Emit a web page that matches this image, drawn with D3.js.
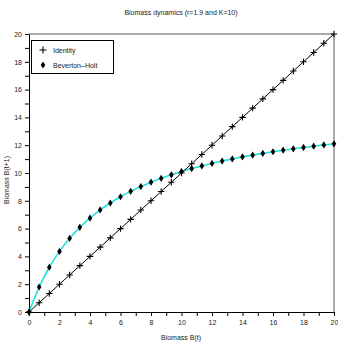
<!DOCTYPE html>
<html>
<head>
<meta charset="utf-8">
<script src="https://cdn.jsdelivr.net/npm/d3@7"></script>
<style>
  body { margin: 0; background: #fff; }
  text { font-family: "Liberation Sans", Arial, sans-serif; }
</style>
</head>
<body>
<script>
// biomass at time t (x) and at t+1 for the two curves
const biomassT = [0, 0.667, 1.333, 2, 2.667, 3.333, 4, 4.667, 5.333, 6, 6.667, 7.333, 8, 8.667, 9.333,
  10, 10.667, 11.333, 12, 12.667, 13.333, 14, 14.667, 15.333, 16, 16.667, 17.333, 18, 18.667, 19.333, 20];
const identity = [0, 0.667, 1.333, 2, 2.667, 3.333, 4, 4.667, 5.333, 6, 6.667, 7.333, 8, 8.667, 9.333,
  10, 10.667, 11.333, 12, 12.667, 13.333, 14, 14.667, 15.333, 16, 16.667, 17.333, 18, 18.667, 19.333, 20];
const bevertonHolt = [0, 1.80, 3.22, 4.36, 5.30, 6.09, 6.76, 7.34, 7.84, 8.29, 8.68, 9.02, 9.34, 9.62, 9.87,
  10.11, 10.32, 10.51, 10.69, 10.86, 11.01, 11.16, 11.29, 11.41, 11.53, 11.64, 11.74, 11.84, 11.93, 12.02, 12.10];
const xTicks = d3.range(0, 21, 1);
const yTicks = d3.range(0, 21, 1);
const legendLabels = ["Identity", "Beverton\u2013Holt"];

const W = 338, H = 343;
const m = {left: 29, right: 4, top: 34, bottom: 31};

const svg = d3.select("body").append("svg")
  .attr("width", W)
  .attr("height", H);

const x = d3.scaleLinear().domain([0, 20]).range([m.left, W - m.right]);
const y = d3.scaleLinear().domain([0, 20]).range([H - m.bottom, m.top]);

// frame (top + right)
svg.append("path")
  .attr("d", `M${x(0)},${y(20)}H${x(20)}V${y(0)}`)
  .attr("fill", "none")
  .attr("stroke", "#555")
  .attr("stroke-width", 1);

// axes, labels only on even ticks
const xAxis = svg.append("g")
  .attr("transform", `translate(0,${y(0)})`)
  .call(d3.axisBottom(x).tickValues(xTicks).tickSize(4).tickSizeOuter(0)
    .tickFormat(d => d % 2 === 0 ? d : ""));
const yAxis = svg.append("g")
  .attr("transform", `translate(${x(0)},0)`)
  .call(d3.axisLeft(y).tickValues(yTicks).tickSize(4).tickSizeOuter(0)
    .tickFormat(d => d % 2 === 0 ? d : ""));
[xAxis, yAxis].forEach(g => {
  g.select(".domain").attr("stroke", "#000");
  g.selectAll("text").attr("font-size", 7).attr("fill", "#222")
    .attr("font-family", "Liberation Sans, Arial, sans-serif");
});
xAxis.selectAll("text").attr("dy", "0.9em");

// lines
const line = d3.line().x((d, i) => x(biomassT[i])).y(d => y(d));
svg.append("path").datum(bevertonHolt)
  .attr("d", line.curve(d3.curveCatmullRom))
  .attr("fill", "none")
  .attr("stroke", "#22e0e0")
  .attr("stroke-width", 1.6);
svg.append("path").datum(identity)
  .attr("d", line.curve(d3.curveLinear))
  .attr("fill", "none")
  .attr("stroke", "#000")
  .attr("stroke-width", 1);

// markers
const plus = (sel, s) => sel.append("path")
  .attr("d", `M${-s},0H${s}M0,${-s}V${s}`)
  .attr("stroke", "#000").attr("stroke-width", 1.1).attr("fill", "none");
const diamond = (sel) => sel.append("path")
  .attr("d", "M0,-3.6L2.3,0L0,3.6L-2.3,0Z")
  .attr("fill", "#000");

svg.append("g").selectAll("g")
  .data(identity)
  .join("g")
  .attr("transform", (d, i) => `translate(${x(biomassT[i])},${y(d)})`)
  .each(function() { plus(d3.select(this), 3.2); });

svg.append("g").selectAll("g")
  .data(bevertonHolt)
  .join("g")
  .attr("transform", (d, i) => `translate(${x(biomassT[i])},${y(d)})`)
  .each(function() { diamond(d3.select(this)); });

// legend
const lg = svg.append("g");
lg.append("rect")
  .attr("x", 31.5).attr("y", 40.5).attr("width", 82).attr("height", 33)
  .attr("fill", "#fff").attr("stroke", "#000").attr("stroke-width", 1);
legendLabels.forEach((lab, i) => {
  const g = lg.append("g").attr("transform", `translate(43,${50 + i * 15})`);
  if (i === 0) plus(g, 3.5); else diamond(g);
  g.append("text").attr("x", 10).attr("y", 2.5)
    .attr("font-size", 7).attr("fill", "#222").text(lab);
});

// titles
svg.append("text")
  .attr("x", 181).attr("y", 15)
  .attr("text-anchor", "middle").attr("font-size", 7).attr("fill", "#222")
  .text("Biomass dynamics (r=1.9 and K=10)");
svg.append("text")
  .attr("x", 181).attr("y", 340)
  .attr("text-anchor", "middle").attr("font-size", 7).attr("fill", "#222")
  .text("Biomass B(t)");
svg.append("text")
  .attr("transform", "translate(9,180) rotate(-90)")
  .attr("text-anchor", "middle").attr("font-size", 7).attr("fill", "#222")
  .text("Biomass B(t+1)");
</script>
</body>
</html>
